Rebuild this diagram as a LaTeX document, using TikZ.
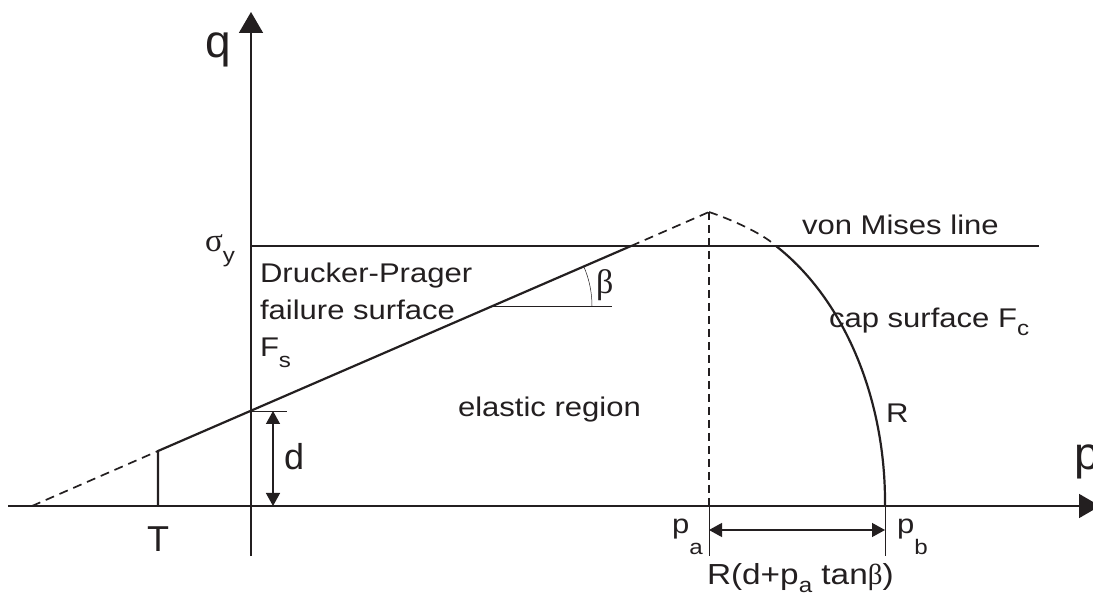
\documentclass[tikz,border=0pt]{standalone}
\usepackage{fontspec}
\setmainfont{Liberation Sans}
\newfontfamily\widesans{Liberation Sans}[FakeStretch=1.15]
\newfontfamily\symbolgreek{Liberation Serif}
\usetikzlibrary{arrows.meta}
\definecolor{ink}{RGB}{35,31,32}
\newcommand{\lowsub}[2][0.35em]{\raisebox{-#1}{\fontsize{21}{21}\selectfont #2}}

\begin{document}
\begin{tikzpicture}[x=1pt,y=-1pt,
  axisline/.style={draw=ink,line width=1.7pt},
  mainline/.style={draw=ink,line width=2.2pt},
  dashline/.style={draw=ink,line width=1.7pt,dash pattern=on 9pt off 6pt},
  thinline/.style={draw=ink,line width=0.5pt},
  dimarrow/.style={draw=ink,line width=1.3pt,{Triangle[length=13pt,width=14pt]}-{Triangle[length=13pt,width=14pt]}},
  biglabel/.style={inner sep=0pt,outer sep=0pt,anchor=base west,text=ink,font=\fontsize{46}{50}\selectfont},
  midlabel/.style={inner sep=0pt,outer sep=0pt,anchor=base west,text=ink,font=\fontsize{36}{40}\selectfont},
  smalllabel/.style={inner sep=0pt,outer sep=0pt,anchor=base west,text=ink,font=\widesans\fontsize{27}{32}\selectfont}]
\path[use as bounding box] (0,0) rectangle (1093,601);
\path[fill=white,draw=none] (0,0) rectangle (1093,601);
% axes
\coordinate (xstart) at (8,506);
\coordinate (xend) at (1100,506);
\coordinate (ystart) at (251,556);
\coordinate (yend) at (251,12);
\draw[axisline,-{Triangle[length=21pt,width=24pt]}] (xstart) -- (xend);
\draw[axisline,-{Triangle[length=21pt,width=24pt]}] (ystart) -- (yend);
% points of the yield surfaces
\coordinate (dptoe) at (32,506);
\coordinate (tcorner) at (158,451);
\coordinate (tfoot) at (158,506);
\coordinate (dcross) at (251,411);
\coordinate (dpvm) at (631,246);
\coordinate (apex) at (709,212);
\coordinate (pa) at (709,506);
\coordinate (capvm) at (776,246);
\coordinate (pb) at (885,506);
\coordinate (vmstart) at (251,246);
\coordinate (vmend) at (1039,246);
% von Mises line
\draw[mainline] (vmstart) -- (vmend);
% Drucker-Prager line
\draw[dashline] (dptoe) -- (tcorner);
\draw[mainline] (tfoot) -- (tcorner) -- (dpvm);
\draw[dashline] (dpvm) -- (apex);
% cap
\draw[dashline] (apex) .. controls (730,219) and (762,233) .. (capvm);
\draw[mainline] (capvm) .. controls (845,300) and (886,400) .. (pb);
\draw[draw=ink,line width=1.3pt,dash pattern=on 8pt off 5pt] (apex) -- (pa);
% angle beta
\coordinate (betao) at (493,306);
\coordinate (betaend) at (612,306);
\draw[thinline] (betao) -- (betaend);
\draw[thinline] (betao) ++(99,0) arc[start angle=0,end angle=-23.5,radius=99];
% dimension d
\coordinate (dtick) at (287,411);
\coordinate (dtop) at (273,411);
\coordinate (dbot) at (273,506);
\draw[thinline] (dcross) -- (dtick);
\draw[dimarrow] (dtop) -- (dbot);
% dimension pa-pb
\coordinate (patick) at (709,556);
\coordinate (pbtick) at (885,556);
\coordinate (diml) at (709,530);
\coordinate (dimr) at (885,530);
\draw[thinline] (pa) -- (patick);
\draw[thinline] (pb) -- (pbtick);
\draw[dimarrow] (diml) -- (dimr);
% labels
\node[biglabel] (qlabel) at (205,58) {q};
\node[biglabel] (plabel) at (1074,470) {p};
\node[midlabel] (tlabel) at (147,551) {T};
\node[midlabel] (dlabel) at (284,470) {d};
\node[smalllabel] (sylabel) at (205,252) {{\symbolgreek\fontsize{33}{33}\selectfont σ}\lowsub[0.4em]{y}};
\node[smalllabel] (betalabel) at (596,294) {\symbolgreek\fontsize{34}{34}\selectfont β};
\node[smalllabel] (vmlabel) at (802,235) {von Mises line};
\node[smalllabel] (caplabel) at (829,328) {cap surface F\lowsub[0.28em]{c}};
\node[smalllabel] (dplabel) at (260,283) {Drucker-Prager};
\node[smalllabel] (fslabel) at (260,320) {failure surface};
\node[smalllabel] (fsname) at (260,357) {F\lowsub[0.4em]{s}};
\node[smalllabel] (ellabel) at (458,417) {elastic region};
\node[smalllabel] (rlabel) at (886,423) {R};
\node[smalllabel] (palabel) at (672,533) {p\lowsub[0.8em]{a}};
\node[smalllabel] (pblabel) at (897,533) {p\lowsub[0.8em]{b}};
\node[smalllabel,font=\widesans\fontsize{29}{32}\selectfont] (rdlabel) at (707,584) {R(d+p\lowsub[0.3em]{a} tan{\symbolgreek β})};
\end{tikzpicture}
\end{document}
